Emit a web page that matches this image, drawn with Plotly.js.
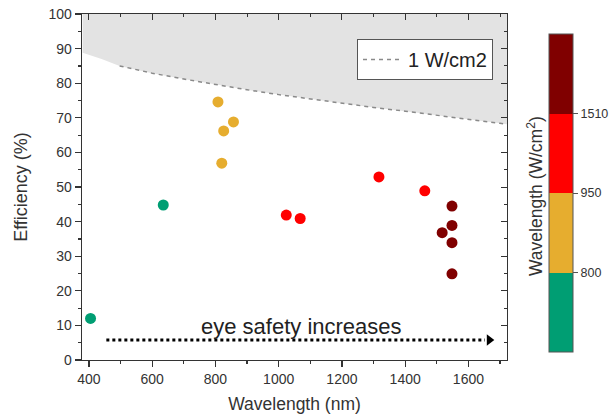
<!DOCTYPE html>
<html>
<head>
<meta charset="utf-8">
<script src="https://cdn.plot.ly/plotly-3.0.1.min.js"></script>
<style>html,body{margin:0;padding:0;background:#fff;}#chart{width:613px;height:414px;}</style>
</head>
<body>
<div id="chart"></div>
<script>
// ---- data ----
const wavelength = [405, 635, 808, 826, 857, 820, 1024, 1068, 1317, 1462, 1548, 1548, 1517, 1548, 1548];
const efficiency = [12.0, 44.8, 74.6, 66.2, 68.8, 56.9, 41.9, 40.9, 52.9, 48.9, 44.5, 38.9, 36.8, 33.9, 24.9];

// 1 W/cm2 limit curve
const limitX = [380, 440, 497, 600, 700, 800, 900, 1000, 1100, 1200, 1300, 1400, 1500, 1600, 1700, 1722];
const limitY = [88.8, 87.0, 85.0, 82.9, 81.2, 79.6, 78.1, 76.7, 75.4, 74.2, 73.0, 71.9, 70.8, 69.6, 68.4, 68.1];
const dashStart = 497;

// colour bins (wavelength thresholds)
const binEdges = [800, 950, 1510];
const binLabels = ['800', '950', '1510'];
const binColors = ['#009E73', '#E6AD2F', '#FF0000', '#800000'];

// arrow annotation
const arrowX = [455, 1652];
const arrowHeadX = 1666;
const arrowY = 5.8;
const arrowText = 'eye safety increases';

// ---- build ----
const groupIdx = wavelength.map(w => {
  let g = 0;
  binEdges.forEach(e => { if (w >= e) g++; });
  return g + 0.5;
});
const cs = [];
binColors.forEach((c, i) => {
  cs.push([i / binColors.length, c]);
  cs.push([(i + 1) / binColors.length, c]);
});

const dashX = [], dashY = [];
limitX.forEach((x, i) => { if (x >= dashStart) { dashX.push(x); dashY.push(limitY[i]); } });

const font = 'Liberation Sans, Arial, sans-serif';
const xr = [378, 1722], yr = [0, 100];
const plotL = 82, plotR = 507, plotT = 14, plotB = 360;
const pw = plotR - plotL, ph = plotB - plotT;

const traces = [
  {x: limitX, y: limitY, mode: 'lines', line: {width: 0}, showlegend: false, hoverinfo: 'skip'},
  {x: limitX, y: limitX.map(() => yr[1]), mode: 'lines', line: {width: 0}, fill: 'tonexty',
   fillcolor: '#E3E3E3', showlegend: false, hoverinfo: 'skip'},
  {x: dashX, y: dashY, mode: 'lines', name: '1 W/cm2',
   line: {color: '#8a8a8a', width: 1.5, dash: '4px,4px'}},
  {x: arrowX, y: arrowX.map(() => arrowY), mode: 'lines', showlegend: false,
   line: {color: '#000', width: 3, dash: 'dot'}, hoverinfo: 'skip'},
  {x: [arrowHeadX], y: [arrowY], mode: 'markers', showlegend: false,
   marker: {symbol: 'triangle-right', size: 10, color: '#000'}, hoverinfo: 'skip'},
  {x: wavelength, y: efficiency, mode: 'markers', showlegend: false,
   marker: {size: 11, color: groupIdx, colorscale: cs, cmin: 0, cmax: binColors.length,
     line: {width: 0},
     colorbar: {
       x: (549 - plotL) / pw, xanchor: 'left', xpad: 0,
       y: (plotB - 352) / ph, yanchor: 'bottom', ypad: 0,
       len: 318 / ph, lenmode: 'fraction', thickness: 24, thicknessmode: 'pixels',
       outlinewidth: 1, outlinecolor: '#555',
       tickvals: [1, 2, 3], ticktext: binLabels, ticks: 'outside', ticklen: 5,
       tickcolor: '#555', tickfont: {size: 12.5, color: '#333', family: font}
     }}},
  {x: xr, y: yr, xaxis: 'x2', yaxis: 'y2', mode: 'markers', marker: {opacity: 0},
   showlegend: false, hoverinfo: 'skip'}
];

const tickfont = {size: 14, color: '#333', family: font};
const layout = {
  width: 613, height: 414,
  margin: {l: plotL, r: 613 - plotR, t: plotT, b: 414 - plotB, autoexpand: false},
  paper_bgcolor: '#fff', plot_bgcolor: '#fff',
  font: {family: font, color: '#333'},
  xaxis: {range: xr, dtick: 200, tick0: 0, showgrid: false, zeroline: false, automargin: false,
    showline: true, linecolor: '#333', linewidth: 1.3, mirror: true,
    ticks: 'outside', ticklen: 6, tickcolor: '#333', tickwidth: 1.2,
    minor: {dtick: 100, tick0: 0, ticks: 'outside', ticklen: 3, tickcolor: '#333'},
    tickfont: tickfont,
    title: {text: 'Wavelength (nm)', font: {size: 17.5, color: '#333'}, standoff: 16}},
  yaxis: {range: yr, dtick: 10, showgrid: false, zeroline: false, automargin: false,
    showline: true, linecolor: '#333', linewidth: 1.3, mirror: true,
    ticks: 'outside', ticklen: 6, tickcolor: '#333', tickwidth: 1.2,
    minor: {dtick: 5, ticks: 'outside', ticklen: 3, tickcolor: '#333'},
    tickfont: tickfont,
    title: {text: 'Efficiency (%)', font: {size: 18, color: '#333'}, standoff: 16}},
  xaxis2: {overlaying: 'x', side: 'top', range: xr, dtick: 200, tick0: 0, showgrid: false,
    zeroline: false, showline: false, showticklabels: false,
    ticks: 'inside', ticklen: 6, tickcolor: '#333',
    minor: {dtick: 100, tick0: 0, ticks: 'inside', ticklen: 3, tickcolor: '#333'}},
  yaxis2: {overlaying: 'y', side: 'right', range: yr, dtick: 10, showgrid: false,
    zeroline: false, showline: false, showticklabels: false,
    ticks: 'inside', ticklen: 6, tickcolor: '#333',
    minor: {dtick: 5, ticks: 'inside', ticklen: 3, tickcolor: '#333'}},
  legend: {x: (493 - plotL) / pw, xanchor: 'right', y: (plotB - 39) / ph, yanchor: 'top',
    bgcolor: '#fff', bordercolor: '#555', borderwidth: 1, itemwidth: 40,
    font: {size: 20, color: '#222', family: font}},
  annotations: [
    {xref: 'x', yref: 'y', x: (arrowX[0] + arrowHeadX) / 2 + 12, y: arrowY - 0.4, yanchor: 'bottom',
     text: arrowText, showarrow: false, font: {size: 22, color: '#222', family: font}},
    {xref: 'paper', yref: 'paper', x: (535 - plotL) / pw, y: (plotB - 196) / ph,
     xanchor: 'center', yanchor: 'middle',
     text: 'Wavelength (W/cm<sup>2</sup>)', textangle: -90, showarrow: false,
     font: {size: 17.5, color: '#333', family: font}}
  ],
  showlegend: true
};

Plotly.newPlot('chart', traces, layout, {displayModeBar: false, staticPlot: true});
</script>
</body>
</html>
